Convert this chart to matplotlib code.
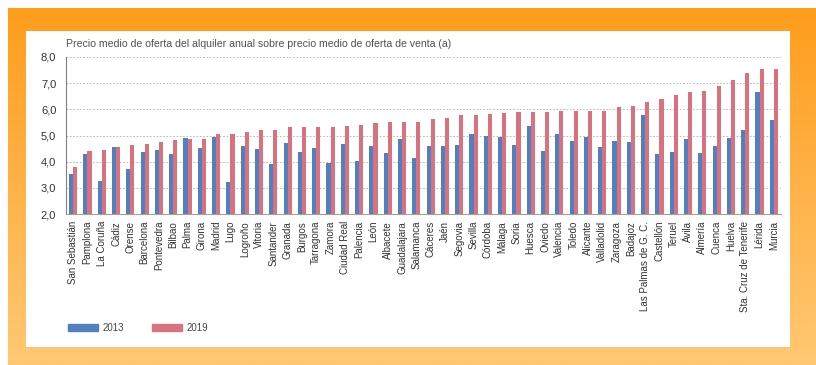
import numpy as np
import matplotlib
matplotlib.use('Agg')
import matplotlib.pyplot as plt
from matplotlib.patches import Rectangle, Patch

plt.rcParams['font.family'] = ['Liberation Sans', 'DejaVu Sans']

# datos
ciudades = ['San Sebastián', 'Pamplona', 'La Coruña', 'Cádiz', 'Orense', 'Barcelona',
            'Pontevedra', 'Bilbao', 'Palma', 'Girona', 'Madrid', 'Lugo', 'Logroño',
            'Vitoria', 'Santander', 'Granada', 'Burgos', 'Tarragona', 'Zamora',
            'Ciudad Real', 'Palencia', 'León', 'Albacete', 'Guadalajara', 'Salamanca',
            'Cáceres', 'Jaén', 'Segovia', 'Sevilla', 'Córdoba', 'Málaga', 'Soria',
            'Huesca', 'Oviedo', 'Valencia', 'Toledo', 'Alicante', 'Valladolid',
            'Zaragoza', 'Badajoz', 'Las Palmas de G. C.', 'Castellón', 'Teruel', 'Ávila',
            'Almería', 'Cuenca', 'Huelva', 'Sta. Cruz de Tenerife', 'Lérida', 'Murcia']
v2013 = [3.53, 4.31, 3.27, 4.56, 3.72, 4.37, 4.46, 4.28, 4.90, 4.53, 4.94, 3.21, 4.58,
         4.49, 3.90, 4.71, 4.36, 4.53, 3.94, 4.69, 4.01, 4.58, 4.32, 4.88, 4.15, 4.58,
         4.59, 4.62, 5.05, 4.99, 4.95, 4.62, 5.36, 4.41, 5.04, 4.79, 4.95, 4.56, 4.78,
         4.77, 5.77, 4.28, 4.36, 4.85, 4.35, 4.60, 4.92, 5.21, 6.67, 5.58]
v2019 = [3.81, 4.40, 4.45, 4.56, 4.62, 4.67, 4.74, 4.83, 4.85, 4.86, 5.04, 5.05, 5.14,
         5.21, 5.22, 5.31, 5.33, 5.33, 5.33, 5.35, 5.42, 5.49, 5.50, 5.51, 5.51, 5.62,
         5.65, 5.79, 5.79, 5.83, 5.86, 5.90, 5.90, 5.90, 5.92, 5.92, 5.94, 5.94, 6.09,
         6.14, 6.27, 6.40, 6.53, 6.67, 6.69, 6.90, 7.13, 7.40, 7.55, 7.55]
yticks = [2.0, 3.0, 4.0, 5.0, 6.0, 7.0, 8.0]

azul = '#5080c0'
rosa = '#d9717f'

fig = plt.figure(figsize=(8.16, 3.65), dpi=100)

# fondo naranja degradado
bg = fig.add_axes([0, 0, 1, 1])
bg.set_axis_off()
grad = np.linspace(0, 1, 256).reshape(-1, 1)
c_top = np.array([255, 156, 26]) / 255
c_bot = np.array([255, 200, 115]) / 255
img = c_top + grad[..., None] * (c_bot - c_top)
img = np.repeat(img, 2, axis=1)
bg.imshow(img, aspect='auto', extent=[0, 1, 0, 1], origin='upper')
bg.set_xlim(0, 1)
bg.set_ylim(0, 1)
bg.add_patch(Rectangle((0, 0), 8 / 816, 1, color='white', lw=0))
bg.add_patch(Rectangle((0, 1 - 8 / 365), 1, 8 / 365, color='white', lw=0))
bg.add_patch(Rectangle((26 / 816, 18 / 365), 764 / 816, 316 / 365, color='white', lw=0))

ax = fig.add_axes([66 / 816, 1 - 214 / 365, 715 / 816, 157 / 365])
ax.set_facecolor('none')
x = np.arange(len(ciudades))
w = 0.29
ax.bar(x - w / 2, v2013, width=w, color=azul, label='2013', zorder=3)
ax.bar(x + w / 2, v2019, width=w, color=rosa, label='2019', zorder=3)

ax.set_xlim(-0.5, len(ciudades) - 0.5)
ax.set_ylim(2.0, 8.0)
ax.set_yticks(yticks)
ax.set_yticklabels([f'{t:.1f}'.replace('.', ',') for t in yticks], fontsize=8, color='#333333')
ax.set_xticks(x)
ax.set_xticklabels(ciudades, rotation=90, fontsize=7, color='#333333')
ax.tick_params(axis='both', length=0)
ax.tick_params(axis='x', pad=5)
ax.tick_params(axis='y', pad=7)
ax.grid(axis='y', linestyle=(0, (2, 2)), color='#b0b0b0', linewidth=0.6, zorder=0)
for s in ['top', 'right']:
    ax.spines[s].set_visible(False)
ax.spines['left'].set_color('#808080')
ax.spines['bottom'].set_color('#a0a0a0')

fig.text(66 / 816, 1 - 44 / 365, 'Precio medio de oferta del alquiler anual sobre precio medio de oferta de venta (a)',
         fontsize=7.6, color='#505050', va='center', ha='left')

fig.legend(handles=[Patch(color=azul, label='2013'), Patch(color=rosa, label='2019')],
           loc='center left', bbox_to_anchor=(68 / 816, 1 - 328 / 365), ncol=2,
           frameon=False, fontsize=7, handlelength=3.1, handleheight=0.7,
           handletextpad=0.5, columnspacing=2.8, borderpad=0, borderaxespad=0,
           labelcolor='#444444')

fig.savefig('out.png', dpi=100)
